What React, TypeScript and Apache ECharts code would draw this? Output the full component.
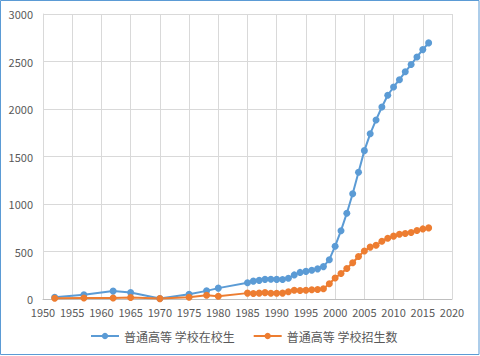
import React, { useEffect, useRef } from "react";
import * as echarts from "echarts";

const years = [1952, 1957, 1962, 1965, 1970, 1975, 1978, 1980, 1985, 1986, 1987, 1988, 1989, 1990, 1991, 1992, 1993, 1994, 1995, 1996, 1997, 1998, 1999, 2000, 2001, 2002, 2003, 2004, 2005, 2006, 2007, 2008, 2009, 2010, 2011, 2012, 2013, 2014, 2015, 2016];
const enrolled = [19.1, 44.1, 83, 67.4, 4.8, 50.1, 85.6, 114.4, 170.3, 188, 195.9, 206.6, 208.2, 206.3, 204.4, 218.4, 253.6, 279.9, 290.6, 302.1, 317.4, 340.9, 413.4, 556.1, 719.1, 903.4, 1108.6, 1333.5, 1561.8, 1738.8, 1884.9, 2021.0, 2144.7, 2231.8, 2308.5, 2391.3, 2468.1, 2547.7, 2625.3, 2695.8];
const admitted = [7.9, 10.6, 10.7, 16.4, 4.2, 19.1, 40.2, 28.1, 61.9, 57.2, 61.7, 67, 59.7, 60.9, 62, 75.4, 92.4, 90, 92.6, 96.6, 100, 108.4, 159.7, 220.6, 268.3, 320.5, 382.2, 447.3, 504.5, 546.1, 565.9, 607.7, 639.5, 661.8, 681.5, 688.8, 699.8, 721.4, 737.8, 748.6];
const seriesNames = ["普通高等 学校在校生", "普通高等 学校招生数"];

const FONT = "'Noto Sans CJK SC', 'Noto Sans', sans-serif";

export default function App() {
  const ref = useRef<HTMLDivElement>(null);
  useEffect(() => {
    document.body.style.margin = "0";
    const chart = echarts.init(ref.current!, null, { renderer: "svg" });
    const mk = (vals: number[]) => years.map((y, i) => [y, vals[i]]);
    chart.setOption({
      animation: false,
      backgroundColor: "#fff",
      textStyle: { fontFamily: FONT },
      graphic: [
        {
          type: "rect",
          shape: { x: 0.5, y: 0.5, width: 478.5, height: 354 },
          style: { fill: "none", stroke: "#5B9BD5", lineWidth: 1 },
          silent: true,
        },
      ],
      grid: { left: 43, right: 28, top: 14, bottom: 57 },
      xAxis: {
        type: "value",
        min: 1950,
        max: 2020,
        interval: 5,
        axisLine: { show: true, lineStyle: { color: "#bfbfbf" } },
        axisTick: { show: false },
        axisLabel: {
          color: "#595959",
          fontSize: 11,
          fontFamily: FONT,
          margin: 7,
          showMinLabel: true,
          showMaxLabel: true,
          hideOverlap: false,
          formatter: (v: number) => String(v),
        },
        splitLine: { show: true, lineStyle: { color: "#d9d9d9" } },
      },
      yAxis: {
        type: "value",
        min: 0,
        max: 3000,
        interval: 500,
        axisLine: { show: true, lineStyle: { color: "#d9d9d9" } },
        axisTick: { show: false },
        axisLabel: {
          color: "#595959",
          fontSize: 11,
          fontFamily: FONT,
          margin: 10,
          formatter: (v: number) => String(v),
        },
        splitLine: { show: true, lineStyle: { color: "#d9d9d9" } },
      },
      legend: {
        left: 90,
        top: 330,
        padding: 0,
        itemWidth: 28,
        itemHeight: 8,
        itemGap: 18,
        textStyle: { color: "#595959", fontSize: 12, fontFamily: FONT },
        data: seriesNames,
      },
      series: [
        {
          name: seriesNames[0],
          type: "line",
          data: mk(enrolled),
          symbol: "circle",
          symbolSize: 7,
          color: "#5B9BD5",
          lineStyle: { width: 2, color: "#5B9BD5" },
          itemStyle: { color: "#5B9BD5" },
        },
        {
          name: seriesNames[1],
          type: "line",
          data: mk(admitted),
          symbol: "circle",
          symbolSize: 7,
          color: "#ED7D31",
          lineStyle: { width: 2, color: "#ED7D31" },
          itemStyle: { color: "#ED7D31" },
        },
      ],
    });
    return () => chart.dispose();
  }, []);
  return <div ref={ref} style={{ width: 480, height: 356 }} />;
}
